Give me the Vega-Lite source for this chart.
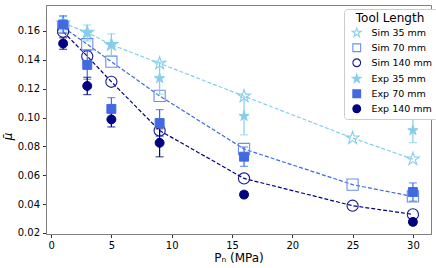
{
  "$schema": "https://vega.github.io/schema/vega-lite/v6.json",
  "width": 385,
  "height": 229,
  "autosize": "none",
  "padding": {"left": 46, "top": 5, "right": 5, "bottom": 34},
  "data": {"values": [
    {"P": 1, "mu": 0.1655, "series": "Sim 35 mm", "type": "Sim", "tool": "35"},
    {"P": 3, "mu": 0.159, "series": "Sim 35 mm", "type": "Sim", "tool": "35"},
    {"P": 5, "mu": 0.1505, "series": "Sim 35 mm", "type": "Sim", "tool": "35"},
    {"P": 9, "mu": 0.1376, "series": "Sim 35 mm", "type": "Sim", "tool": "35"},
    {"P": 16, "mu": 0.1148, "series": "Sim 35 mm", "type": "Sim", "tool": "35"},
    {"P": 25, "mu": 0.0858, "series": "Sim 35 mm", "type": "Sim", "tool": "35"},
    {"P": 30, "mu": 0.0712, "series": "Sim 35 mm", "type": "Sim", "tool": "35"},
    {"P": 1, "mu": 0.1625, "series": "Sim 70 mm", "type": "Sim", "tool": "70"},
    {"P": 3, "mu": 0.1508, "series": "Sim 70 mm", "type": "Sim", "tool": "70"},
    {"P": 5, "mu": 0.1387, "series": "Sim 70 mm", "type": "Sim", "tool": "70"},
    {"P": 9, "mu": 0.115, "series": "Sim 70 mm", "type": "Sim", "tool": "70"},
    {"P": 16, "mu": 0.0782, "series": "Sim 70 mm", "type": "Sim", "tool": "70"},
    {"P": 25, "mu": 0.0535, "series": "Sim 70 mm", "type": "Sim", "tool": "70"},
    {"P": 30, "mu": 0.0453, "series": "Sim 70 mm", "type": "Sim", "tool": "70"},
    {"P": 1, "mu": 0.1595, "series": "Sim 140 mm", "type": "Sim", "tool": "140"},
    {"P": 3, "mu": 0.1425, "series": "Sim 140 mm", "type": "Sim", "tool": "140"},
    {"P": 5, "mu": 0.1248, "series": "Sim 140 mm", "type": "Sim", "tool": "140"},
    {"P": 9, "mu": 0.091, "series": "Sim 140 mm", "type": "Sim", "tool": "140"},
    {"P": 16, "mu": 0.0578, "series": "Sim 140 mm", "type": "Sim", "tool": "140"},
    {"P": 25, "mu": 0.0389, "series": "Sim 140 mm", "type": "Sim", "tool": "140"},
    {"P": 30, "mu": 0.0329, "series": "Sim 140 mm", "type": "Sim", "tool": "140"},
    {"P": 1, "mu": 0.165, "err": 0.005, "series": "Exp 35 mm", "type": "Exp", "tool": "35"},
    {"P": 3, "mu": 0.1586, "err": 0.0055, "series": "Exp 35 mm", "type": "Exp", "tool": "35"},
    {"P": 5, "mu": 0.1505, "err": 0.0075, "series": "Exp 35 mm", "type": "Exp", "tool": "35"},
    {"P": 9, "mu": 0.1272, "err": 0.011, "series": "Exp 35 mm", "type": "Exp", "tool": "35"},
    {"P": 16, "mu": 0.101, "err": 0.013, "series": "Exp 35 mm", "type": "Exp", "tool": "35"},
    {"P": 30, "mu": 0.0911, "err": 0.0085, "series": "Exp 35 mm", "type": "Exp", "tool": "35"},
    {"P": 1, "mu": 0.1645, "err": 0.006, "series": "Exp 70 mm", "type": "Exp", "tool": "70"},
    {"P": 3, "mu": 0.1365, "err": 0.01, "series": "Exp 70 mm", "type": "Exp", "tool": "70"},
    {"P": 5, "mu": 0.106, "err": 0.0078, "series": "Exp 70 mm", "type": "Exp", "tool": "70"},
    {"P": 9, "mu": 0.0962, "err": 0.0093, "series": "Exp 70 mm", "type": "Exp", "tool": "70"},
    {"P": 16, "mu": 0.0729, "err": 0.0067, "series": "Exp 70 mm", "type": "Exp", "tool": "70"},
    {"P": 30, "mu": 0.0484, "err": 0.0063, "series": "Exp 70 mm", "type": "Exp", "tool": "70"},
    {"P": 1, "mu": 0.1513, "err": 0.004, "series": "Exp 140 mm", "type": "Exp", "tool": "140"},
    {"P": 3, "mu": 0.1219, "err": 0.006, "series": "Exp 140 mm", "type": "Exp", "tool": "140"},
    {"P": 5, "mu": 0.0987, "err": 0.0052, "series": "Exp 140 mm", "type": "Exp", "tool": "140"},
    {"P": 9, "mu": 0.0825, "err": 0.0097, "series": "Exp 140 mm", "type": "Exp", "tool": "140"},
    {"P": 16, "mu": 0.0466, "err": 0.002, "series": "Exp 140 mm", "type": "Exp", "tool": "140"},
    {"P": 30, "mu": 0.0277, "err": 0.002, "series": "Exp 140 mm", "type": "Exp", "tool": "140"}
  ]},
  "encoding": {
    "x": {"field": "P", "type": "quantitative", "scale": {"domain": [-0.42, 31.5], "nice": false, "zero": false}, "axis": {"values": [0, 5, 10, 15, 20, 25, 30], "title": "P\u2099 (MPa)", "titlePadding": 2}},
    "y": {"field": "mu", "type": "quantitative", "scale": {"domain": [0.0193, 0.178], "nice": false, "zero": false}, "axis": {"values": [0.02, 0.04, 0.06, 0.08, 0.1, 0.12, 0.14, 0.16], "format": ".2f", "title": "\u03bc\u0304", "titlePadding": 3, "titleFontStyle": "italic", "titleY": 131}}
  },
  "layer": [
    {
      "transform": [{"filter": "datum.type == 'Sim'"}],
      "mark": {"type": "line", "strokeDash": [4, 2], "strokeWidth": 1.2},
      "encoding": {
        "color": {"field": "tool", "type": "nominal", "scale": {"domain": ["35", "70", "140"], "range": ["#87ceeb", "#4169e1", "#000080"]}, "legend": null},
        "detail": {"field": "series"}
      }
    },
    {
      "transform": [{"filter": "datum.type == 'Sim'"}],
      "mark": {"type": "point", "strokeWidth": 1.1, "opacity": 1},
      "encoding": {
        "stroke": {"field": "series", "type": "nominal", "scale": {"domain": ["Sim 35 mm", "Sim 70 mm", "Sim 140 mm", "Exp 35 mm", "Exp 70 mm", "Exp 140 mm"], "range": ["#87ceeb", "#6a8ff0", "#1a1a8a", "#87ceeb", "#4169e1", "#000080"]}, "title": "Tool Length",
          "legend": {"orient": "none", "legendX": 298, "legendY": 4, "strokeColor": "#cccccc", "fillColor": "white", "cornerRadius": 3, "padding": 4, "symbolOffset": 4, "titleAnchor": "middle", "titleFontSize": 12, "titleFontWeight": "normal", "titleColor": "#000", "titlePadding": 3, "labelFontSize": 9.5, "labelColor": "#000", "symbolSize": 60, "rowPadding": 2, "labelOffset": 10, "symbolStrokeWidth": 1.1}},
        "fill": {"field": "series", "type": "nominal", "scale": {"domain": ["Sim 35 mm", "Sim 70 mm", "Sim 140 mm", "Exp 35 mm", "Exp 70 mm", "Exp 140 mm"], "range": ["transparent", "transparent", "transparent", "#87ceeb", "#4169e1", "#000080"]}, "title": "Tool Length"},
        "shape": {"field": "series", "type": "nominal", "scale": {"domain": ["Sim 35 mm", "Sim 70 mm", "Sim 140 mm", "Exp 35 mm", "Exp 70 mm", "Exp 140 mm"], "range": ["M0,-1.2L0.269,-0.371L1.141,-0.371L0.436,0.142L0.706,0.971L0,0.458L-0.706,0.971L-0.436,0.142L-1.141,-0.371L-0.269,-0.371Z", "square", "circle", "M0,-1.2L0.269,-0.371L1.141,-0.371L0.436,0.142L0.706,0.971L0,0.458L-0.706,0.971L-0.436,0.142L-1.141,-0.371L-0.269,-0.371Z", "square", "circle"]}, "title": "Tool Length"},
        "size": {"field": "type", "type": "nominal", "scale": {"domain": ["Sim", "Exp"], "range": [125, 80]}, "legend": null}
      }
    },
    {
      "transform": [{"filter": "datum.type == 'Exp'"}],
      "mark": {"type": "errorbar", "ticks": {"size": 8, "thickness": 1.2}, "thickness": 1.2},
      "encoding": {
        "yError": {"field": "err"},
        "color": {"field": "tool", "type": "nominal", "legend": null}
      }
    },
    {
      "transform": [{"filter": "datum.type == 'Exp'"}],
      "mark": {"type": "point", "strokeWidth": 1, "opacity": 1},
      "encoding": {
        "stroke": {"field": "series", "type": "nominal", "title": "Tool Length"},
        "fill": {"field": "series", "type": "nominal", "title": "Tool Length"},
        "shape": {"field": "series", "type": "nominal", "title": "Tool Length"},
        "size": {"field": "type", "type": "nominal", "legend": null}
      }
    }
  ],
  "resolve": {"scale": {"color": "shared", "stroke": "shared", "fill": "shared", "shape": "shared", "size": "shared"}},
  "config": {
    "font": "DejaVu Sans",
    "view": {"stroke": "#808080", "strokeWidth": 1},
    "axis": {"grid": false, "domainColor": "#808080", "tickColor": "#333", "tickSize": 3.5, "labelFontSize": 10, "labelColor": "#000", "titleFontSize": 12, "titleFontWeight": "normal", "titleColor": "#000", "labelPadding": 3}
  }
}
